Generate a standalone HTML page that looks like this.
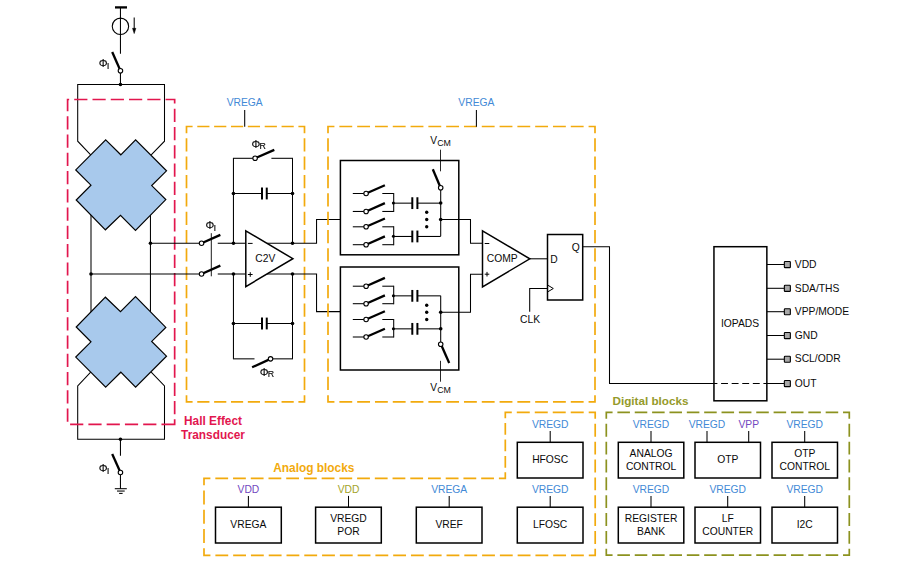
<!DOCTYPE html>
<html lang="en">
<head>
<meta charset="utf-8">
<title>Block diagram</title>
<style>
html,body{margin:0;padding:0;background:#fff;}
body{width:924px;height:576px;overflow:hidden;}
svg{display:block;font-family:"Liberation Sans",Arial,Helvetica,sans-serif;}
</style>
</head>
<body>
<svg width="924" height="576" viewBox="0 0 924 576">
<rect x="0" y="0" width="924" height="576" fill="#ffffff"/>
<line x1="115" y1="7.4" x2="127" y2="7.4" stroke="#000000" stroke-width="2.3" />
<line x1="120.45" y1="7.5" x2="120.45" y2="53.8" stroke="#000000" stroke-width="1.05" />
<circle cx="120.45" cy="26.3" r="8.2" fill="none" stroke="#000000" stroke-width="1.1"/>
<line x1="134.2" y1="17.5" x2="134.2" y2="30" stroke="#000000" stroke-width="1.05" />
<polygon points="132.5,28.3 135.9,28.3 134.2,33.6" fill="#000000" stroke="#000000" stroke-width="0.5" />
<line x1="112.2" y1="52" x2="119.6" y2="68.8" stroke="#000000" stroke-width="2.3" />
<circle cx="120.45" cy="70.7" r="2.25" fill="#fff" stroke="#000000" stroke-width="1.1"/>
<line x1="120.45" y1="73" x2="120.45" y2="84.5" stroke="#000000" stroke-width="1.05" />
<circle cx="120.45" cy="84.5" r="1.8" fill="#000000"/>
<polyline points="90.7,154.9 77.7,141.2 77.7,84.5 164.5,84.5 164.5,141.2 151.2,154.9" fill="none" stroke="#000000" stroke-width="1.05" />
<polyline points="90.7,372.1 77.7,385.9 77.7,439.3 164.5,439.3 164.5,385.9 151.2,372.1" fill="none" stroke="#000000" stroke-width="1.05" />
<circle cx="120.45" cy="439.3" r="1.8" fill="#000000"/>
<line x1="120.45" y1="439.3" x2="120.45" y2="455.7" stroke="#000000" stroke-width="1.05" />
<line x1="112.2" y1="454" x2="119.6" y2="470.5" stroke="#000000" stroke-width="2.3" />
<circle cx="120.45" cy="472.5" r="2.25" fill="#fff" stroke="#000000" stroke-width="1.1"/>
<line x1="120.45" y1="474.7" x2="120.45" y2="488.7" stroke="#000000" stroke-width="1.05" />
<line x1="114.8" y1="488.7" x2="126.8" y2="488.7" stroke="#000000" stroke-width="1.05" />
<line x1="117" y1="491.05" x2="124.7" y2="491.05" stroke="#000000" stroke-width="1.05" />
<line x1="119.1" y1="493.4" x2="122.6" y2="493.4" stroke="#000000" stroke-width="1.05" />
<line x1="91" y1="214" x2="91" y2="313" stroke="#000000" stroke-width="1.05" />
<line x1="150.45" y1="214" x2="150.45" y2="313" stroke="#000000" stroke-width="1.05" />
<polygon points="105.7,139.9 120.8,154.8 135.6,139.9 166.5,170.8 151.7,185.6 165.8,199.6 135.5,230.4 120.5,215.3 105.4,229.8 76.2,200 90.95,185.2 75.76,169.9" fill="#a8c9ec" stroke="#000000" stroke-width="1.2" stroke-linejoin="miter"/>
<polygon points="105.7,387.1 120.8,372.2 135.6,387.1 166.5,356.2 151.7,341.4 165.8,327.4 135.5,296.6 120.5,311.7 105.4,297.2 76.2,327 90.95,341.8 75.76,357.1" fill="#a8c9ec" stroke="#000000" stroke-width="1.2" stroke-linejoin="miter"/>
<circle cx="150.45" cy="243.25" r="1.8" fill="#000000"/>
<circle cx="91" cy="274" r="1.8" fill="#000000"/>
<path d="M174.66,424.3 L67.6,424.3 L67.6,99.5 L174.66,99.5 Z" fill="none" stroke="#e2164e" stroke-width="1.7" stroke-dasharray="13.2 5.07"/>
<g fill="#000" stroke="#000" stroke-width="0.12" style="filter:grayscale(1)"><text transform="translate(98.8,67) scale(0.96,1)" font-size="11.5">Φ</text><text x="106.8" y="68.9" font-size="9.6">I</text></g>
<g fill="#000" stroke="#000" stroke-width="0.12" style="filter:grayscale(1)"><text transform="translate(98.8,471.6) scale(0.96,1)" font-size="11.5">Φ</text><text x="106.8" y="473.5" font-size="9.6">I</text></g>
<text x="213" y="424.7" fill="#e2164e" font-size="11.85" text-anchor="middle" font-weight="bold" >Hall Effect</text>
<text x="213" y="439" fill="#e2164e" font-size="11.85" text-anchor="middle" font-weight="bold" >Transducer</text>
<line x1="192.59" y1="126.5" x2="298.41" y2="126.5" stroke="#f2aa0d" stroke-width="1.7" stroke-dasharray="12.175 4.683" stroke-dashoffset="12.175"/>
<line x1="304.5" y1="133.13" x2="304.5" y2="395.17" stroke="#f2aa0d" stroke-width="1.7" stroke-dasharray="13.255 5.098" stroke-dashoffset="13.255"/>
<line x1="298.41" y1="401.8" x2="192.59" y2="401.8" stroke="#f2aa0d" stroke-width="1.7" stroke-dasharray="12.175 4.683" stroke-dashoffset="12.175"/>
<line x1="186.5" y1="395.17" x2="186.5" y2="133.13" stroke="#f2aa0d" stroke-width="1.7" stroke-dasharray="13.255 5.098" stroke-dashoffset="13.255"/>
<polyline points="186.5,133.13 186.5,126.5 192.59,126.5" fill="none" stroke="#f2aa0d" stroke-width="1.7" stroke-linejoin="miter"/>
<polyline points="298.41,126.5 304.5,126.5 304.5,133.13" fill="none" stroke="#f2aa0d" stroke-width="1.7" stroke-linejoin="miter"/>
<polyline points="304.5,395.17 304.5,401.8 298.41,401.8" fill="none" stroke="#f2aa0d" stroke-width="1.7" stroke-linejoin="miter"/>
<polyline points="192.59,401.8 186.5,401.8 186.5,395.17" fill="none" stroke="#f2aa0d" stroke-width="1.7" stroke-linejoin="miter"/>
<text x="244.7" y="106.3" fill="#4289d6" font-size="10.3" text-anchor="middle" >VREGA</text>
<line x1="244.7" y1="110" x2="244.7" y2="126.7" stroke="#000000" stroke-width="1.05" />
<line x1="150.45" y1="243.25" x2="201.55" y2="243.25" stroke="#000000" stroke-width="1.05" />
<line x1="217.75" y1="243.25" x2="245.8" y2="243.25" stroke="#000000" stroke-width="1.05" />
<line x1="201.55" y1="243.25" x2="220.35" y2="234.85" stroke="#000000" stroke-width="2.3" />
<circle cx="201.55" cy="243.25" r="2.25" fill="#fff" stroke="#000000" stroke-width="1.1"/>
<line x1="91" y1="274" x2="201.55" y2="274" stroke="#000000" stroke-width="1.05" />
<line x1="217.75" y1="274" x2="245.8" y2="274" stroke="#000000" stroke-width="1.05" />
<line x1="201.55" y1="274" x2="220.35" y2="265.6" stroke="#000000" stroke-width="2.3" />
<circle cx="201.55" cy="274" r="2.25" fill="#fff" stroke="#000000" stroke-width="1.1"/>
<line x1="211.3" y1="233.2" x2="211.3" y2="276.3" stroke="#000000" stroke-width="0.9" />
<g fill="#000" stroke="#000" stroke-width="0.12" style="filter:grayscale(1)"><text transform="translate(205.6,228.8) scale(0.96,1)" font-size="11.5">Φ</text><text x="213.6" y="230.7" font-size="9.6">I</text></g>
<polygon points="245.8,230.9 292.9,258.7 245.8,286.6" fill="#fff" stroke="#000000" stroke-width="1.5" />
<text x="265.3" y="262.3" fill="#0a0a0a" font-size="10.3" text-anchor="middle" >C2V</text>
<line x1="247.9" y1="243.4" x2="252.6" y2="243.4" stroke="#000000" stroke-width="1" />
<line x1="247.9" y1="274.5" x2="252.6" y2="274.5" stroke="#000000" stroke-width="1" />
<line x1="250.25" y1="272.2" x2="250.25" y2="276.8" stroke="#000000" stroke-width="1" />
<polyline points="267,243.25 316.55,243.25 316.55,219.5 340,219.5" fill="none" stroke="#000000" stroke-width="1.05" />
<polyline points="267,274 316.55,274 316.55,311.6 340,311.6" fill="none" stroke="#000000" stroke-width="1.05" />
<line x1="233.45" y1="158.3" x2="233.45" y2="243.25" stroke="#000000" stroke-width="1.05" />
<line x1="292.5" y1="158.3" x2="292.5" y2="243.25" stroke="#000000" stroke-width="1.05" />
<line x1="232.95" y1="158.3" x2="255.1" y2="158.3" stroke="#000000" stroke-width="1.05" />
<line x1="271.4" y1="158.3" x2="293" y2="158.3" stroke="#000000" stroke-width="1.05" />
<line x1="255.1" y1="158.3" x2="274.3" y2="149.9" stroke="#000000" stroke-width="2.3" />
<circle cx="255.1" cy="158.3" r="2.25" fill="#fff" stroke="#000000" stroke-width="1.1"/>
<line x1="233.45" y1="193.5" x2="262" y2="193.5" stroke="#000000" stroke-width="1.05" />
<line x1="266.75" y1="193.5" x2="292.5" y2="193.5" stroke="#000000" stroke-width="1.05" />
<line x1="262" y1="187.6" x2="262" y2="199.4" stroke="#000000" stroke-width="2.0" />
<line x1="266.75" y1="187.6" x2="266.75" y2="199.4" stroke="#000000" stroke-width="2.0" />
<circle cx="233.45" cy="193.5" r="1.8" fill="#000000"/>
<circle cx="292.5" cy="193.5" r="1.8" fill="#000000"/>
<circle cx="233.45" cy="243.25" r="1.8" fill="#000000"/>
<circle cx="292.5" cy="243.25" r="1.8" fill="#000000"/>
<g fill="#000" stroke="#000" stroke-width="0.12" style="filter:grayscale(1)"><text transform="translate(251.6,147.5) scale(0.96,1)" font-size="11.5">Φ</text><text x="259.6" y="148.8" font-size="8.8">R</text></g>
<line x1="233.45" y1="274" x2="233.45" y2="358.85" stroke="#000000" stroke-width="1.05" />
<line x1="292.5" y1="274" x2="292.5" y2="358.85" stroke="#000000" stroke-width="1.05" />
<line x1="233.45" y1="323.5" x2="262" y2="323.5" stroke="#000000" stroke-width="1.05" />
<line x1="266.75" y1="323.5" x2="292.5" y2="323.5" stroke="#000000" stroke-width="1.05" />
<line x1="262" y1="317.6" x2="262" y2="329.4" stroke="#000000" stroke-width="2.0" />
<line x1="266.75" y1="317.6" x2="266.75" y2="329.4" stroke="#000000" stroke-width="2.0" />
<circle cx="233.45" cy="323.5" r="1.8" fill="#000000"/>
<circle cx="292.5" cy="323.5" r="1.8" fill="#000000"/>
<circle cx="233.45" cy="274" r="1.8" fill="#000000"/>
<circle cx="292.5" cy="274" r="1.8" fill="#000000"/>
<line x1="232.95" y1="358.85" x2="254.5" y2="358.85" stroke="#000000" stroke-width="1.05" />
<line x1="270.55" y1="358.85" x2="293" y2="358.85" stroke="#000000" stroke-width="1.05" />
<line x1="270.55" y1="358.85" x2="252.1" y2="367.3" stroke="#000000" stroke-width="2.3" />
<circle cx="270.55" cy="358.85" r="2.25" fill="#fff" stroke="#000000" stroke-width="1.1"/>
<g fill="#000" stroke="#000" stroke-width="0.12" style="filter:grayscale(1)"><text transform="translate(259.8,375.7) scale(0.96,1)" font-size="11.5">Φ</text><text x="267.8" y="377" font-size="8.8">R</text></g>
<line x1="334.43" y1="126.5" x2="588.57" y2="126.5" stroke="#f2aa0d" stroke-width="1.7" stroke-dasharray="12.856 4.944" stroke-dashoffset="12.856"/>
<line x1="595" y1="133.13" x2="595" y2="395.17" stroke="#f2aa0d" stroke-width="1.7" stroke-dasharray="13.255 5.098" stroke-dashoffset="13.255"/>
<line x1="588.57" y1="401.8" x2="334.43" y2="401.8" stroke="#f2aa0d" stroke-width="1.7" stroke-dasharray="12.856 4.944" stroke-dashoffset="12.856"/>
<line x1="328" y1="395.17" x2="328" y2="133.13" stroke="#f2aa0d" stroke-width="1.7" stroke-dasharray="13.255 5.098" stroke-dashoffset="13.255"/>
<polyline points="328,133.13 328,126.5 334.43,126.5" fill="none" stroke="#f2aa0d" stroke-width="1.7" stroke-linejoin="miter"/>
<polyline points="588.57,126.5 595,126.5 595,133.13" fill="none" stroke="#f2aa0d" stroke-width="1.7" stroke-linejoin="miter"/>
<polyline points="595,395.17 595,401.8 588.57,401.8" fill="none" stroke="#f2aa0d" stroke-width="1.7" stroke-linejoin="miter"/>
<polyline points="334.43,401.8 328,401.8 328,395.17" fill="none" stroke="#f2aa0d" stroke-width="1.7" stroke-linejoin="miter"/>
<text x="476.4" y="106.3" fill="#4289d6" font-size="10.3" text-anchor="middle" >VREGA</text>
<line x1="476.4" y1="110" x2="476.4" y2="126.7" stroke="#000000" stroke-width="1.05" />
<rect x="340.4" y="160.5" width="118.4" height="94.3" fill="none" stroke="#000000" stroke-width="1.5"/>
<rect x="340.4" y="267" width="118.4" height="103" fill="none" stroke="#000000" stroke-width="1.5"/>
<line x1="352.8" y1="193.5" x2="366.1" y2="193.5" stroke="#000000" stroke-width="1.05" />
<line x1="382.3" y1="193.5" x2="393.7" y2="193.5" stroke="#000000" stroke-width="1.05" />
<line x1="366.1" y1="193.5" x2="384.9" y2="185.2" stroke="#000000" stroke-width="2.3" />
<circle cx="366.1" cy="193.5" r="2.25" fill="#fff" stroke="#000000" stroke-width="1.1"/>
<line x1="352.8" y1="211.45" x2="366.1" y2="211.45" stroke="#000000" stroke-width="1.05" />
<line x1="382.3" y1="211.45" x2="393.7" y2="211.45" stroke="#000000" stroke-width="1.05" />
<line x1="366.1" y1="211.45" x2="384.9" y2="203.15" stroke="#000000" stroke-width="2.3" />
<circle cx="366.1" cy="211.45" r="2.25" fill="#fff" stroke="#000000" stroke-width="1.1"/>
<line x1="352.8" y1="226.8" x2="366.1" y2="226.8" stroke="#000000" stroke-width="1.05" />
<line x1="382.3" y1="226.8" x2="393.7" y2="226.8" stroke="#000000" stroke-width="1.05" />
<line x1="366.1" y1="226.8" x2="384.9" y2="218.5" stroke="#000000" stroke-width="2.3" />
<circle cx="366.1" cy="226.8" r="2.25" fill="#fff" stroke="#000000" stroke-width="1.1"/>
<line x1="352.8" y1="244.7" x2="366.1" y2="244.7" stroke="#000000" stroke-width="1.05" />
<line x1="382.3" y1="244.7" x2="393.7" y2="244.7" stroke="#000000" stroke-width="1.05" />
<line x1="366.1" y1="244.7" x2="384.9" y2="236.4" stroke="#000000" stroke-width="2.3" />
<circle cx="366.1" cy="244.7" r="2.25" fill="#fff" stroke="#000000" stroke-width="1.1"/>
<line x1="393.7" y1="193" x2="393.7" y2="211.95" stroke="#000000" stroke-width="1.05" />
<line x1="393.7" y1="203.15" x2="412.3" y2="203.15" stroke="#000000" stroke-width="1.05" />
<line x1="417.4" y1="203.15" x2="440.7" y2="203.15" stroke="#000000" stroke-width="1.05" />
<line x1="412.3" y1="197.25" x2="412.3" y2="209.05" stroke="#000000" stroke-width="2.0" />
<line x1="417.4" y1="197.25" x2="417.4" y2="209.05" stroke="#000000" stroke-width="2.0" />
<circle cx="393.4" cy="203" r="1.5" fill="#000000"/>
<line x1="393.7" y1="226.3" x2="393.7" y2="245.2" stroke="#000000" stroke-width="1.05" />
<line x1="393.7" y1="236.45" x2="412.3" y2="236.45" stroke="#000000" stroke-width="1.05" />
<line x1="417.4" y1="236.45" x2="440.7" y2="236.45" stroke="#000000" stroke-width="1.05" />
<line x1="412.3" y1="230.55" x2="412.3" y2="242.35" stroke="#000000" stroke-width="2.0" />
<line x1="417.4" y1="230.55" x2="417.4" y2="242.35" stroke="#000000" stroke-width="2.0" />
<circle cx="393.4" cy="236.3" r="1.5" fill="#000000"/>
<line x1="352.8" y1="286.2" x2="366.1" y2="286.2" stroke="#000000" stroke-width="1.05" />
<line x1="382.3" y1="286.2" x2="393.7" y2="286.2" stroke="#000000" stroke-width="1.05" />
<line x1="366.1" y1="286.2" x2="384.9" y2="277.9" stroke="#000000" stroke-width="2.3" />
<circle cx="366.1" cy="286.2" r="2.25" fill="#fff" stroke="#000000" stroke-width="1.1"/>
<line x1="352.8" y1="303.7" x2="366.1" y2="303.7" stroke="#000000" stroke-width="1.05" />
<line x1="382.3" y1="303.7" x2="393.7" y2="303.7" stroke="#000000" stroke-width="1.05" />
<line x1="366.1" y1="303.7" x2="384.9" y2="295.4" stroke="#000000" stroke-width="2.3" />
<circle cx="366.1" cy="303.7" r="2.25" fill="#fff" stroke="#000000" stroke-width="1.1"/>
<line x1="352.8" y1="319.5" x2="366.1" y2="319.5" stroke="#000000" stroke-width="1.05" />
<line x1="382.3" y1="319.5" x2="393.7" y2="319.5" stroke="#000000" stroke-width="1.05" />
<line x1="366.1" y1="319.5" x2="384.9" y2="311.2" stroke="#000000" stroke-width="2.3" />
<circle cx="366.1" cy="319.5" r="2.25" fill="#fff" stroke="#000000" stroke-width="1.1"/>
<line x1="352.8" y1="337" x2="366.1" y2="337" stroke="#000000" stroke-width="1.05" />
<line x1="382.3" y1="337" x2="393.7" y2="337" stroke="#000000" stroke-width="1.05" />
<line x1="366.1" y1="337" x2="384.9" y2="328.7" stroke="#000000" stroke-width="2.3" />
<circle cx="366.1" cy="337" r="2.25" fill="#fff" stroke="#000000" stroke-width="1.1"/>
<line x1="393.7" y1="285.7" x2="393.7" y2="304.2" stroke="#000000" stroke-width="1.05" />
<line x1="393.7" y1="295.85" x2="412.3" y2="295.85" stroke="#000000" stroke-width="1.05" />
<line x1="417.4" y1="295.85" x2="440.7" y2="295.85" stroke="#000000" stroke-width="1.05" />
<line x1="412.3" y1="289.95" x2="412.3" y2="301.75" stroke="#000000" stroke-width="2.0" />
<line x1="417.4" y1="289.95" x2="417.4" y2="301.75" stroke="#000000" stroke-width="2.0" />
<circle cx="393.4" cy="295.7" r="1.5" fill="#000000"/>
<line x1="393.7" y1="319" x2="393.7" y2="337.5" stroke="#000000" stroke-width="1.05" />
<line x1="393.7" y1="328.85" x2="412.3" y2="328.85" stroke="#000000" stroke-width="1.05" />
<line x1="417.4" y1="328.85" x2="440.7" y2="328.85" stroke="#000000" stroke-width="1.05" />
<line x1="412.3" y1="322.95" x2="412.3" y2="334.75" stroke="#000000" stroke-width="2.0" />
<line x1="417.4" y1="322.95" x2="417.4" y2="334.75" stroke="#000000" stroke-width="2.0" />
<circle cx="393.4" cy="328.7" r="1.5" fill="#000000"/>
<circle cx="426.7" cy="212.2" r="1.7" fill="#000000"/>
<circle cx="426.7" cy="219.5" r="1.7" fill="#000000"/>
<circle cx="426.7" cy="226.8" r="1.7" fill="#000000"/>
<circle cx="426.7" cy="305.2" r="1.7" fill="#000000"/>
<circle cx="426.7" cy="312.2" r="1.7" fill="#000000"/>
<circle cx="426.7" cy="319.5" r="1.7" fill="#000000"/>
<line x1="440.7" y1="187.8" x2="440.7" y2="236.3" stroke="#000000" stroke-width="1.05" />
<circle cx="440.7" cy="203" r="1.8" fill="#000000"/>
<circle cx="440.7" cy="219.5" r="1.8" fill="#000000"/>
<line x1="432.8" y1="169.2" x2="440" y2="186.3" stroke="#000000" stroke-width="2.3" />
<circle cx="440.7" cy="187.8" r="2.25" fill="#fff" stroke="#000000" stroke-width="1.1"/>
<line x1="440.5" y1="149.7" x2="440.5" y2="171.3" stroke="#000000" stroke-width="0.85" />
<text x="430.3" y="144.2" fill="#0a0a0a" font-size="10.2">V<tspan font-size="8.8" dx="0.1" dy="1.7">CM</tspan></text>
<line x1="440.7" y1="295.7" x2="440.7" y2="344.2" stroke="#000000" stroke-width="1.05" />
<circle cx="440.7" cy="312.2" r="1.8" fill="#000000"/>
<circle cx="440.7" cy="328.7" r="1.8" fill="#000000"/>
<line x1="441.6" y1="345.7" x2="449.2" y2="363" stroke="#000000" stroke-width="2.3" />
<circle cx="440.7" cy="344.2" r="2.25" fill="#fff" stroke="#000000" stroke-width="1.1"/>
<line x1="440.5" y1="360.8" x2="440.5" y2="381.7" stroke="#000000" stroke-width="0.85" />
<text x="430.3" y="391.3" fill="#0a0a0a" font-size="10.2">V<tspan font-size="8.8" dx="0.1" dy="1.7">CM</tspan></text>
<polyline points="440.7,219.5 470.5,219.5 470.5,243.3 482.5,243.3" fill="none" stroke="#000000" stroke-width="1.05" />
<polyline points="440.7,312.2 470.5,312.2 470.5,274.2 482.5,274.2" fill="none" stroke="#000000" stroke-width="1.05" />
<polygon points="482.5,230.8 529.8,258.8 482.5,286.9" fill="#fff" stroke="#000000" stroke-width="1.5" />
<text x="502.3" y="262.3" fill="#0a0a0a" font-size="10.3" text-anchor="middle" >COMP</text>
<line x1="484.7" y1="243.5" x2="489.3" y2="243.5" stroke="#000000" stroke-width="1" />
<line x1="484.7" y1="274.2" x2="489.3" y2="274.2" stroke="#000000" stroke-width="1" />
<line x1="487" y1="271.9" x2="487" y2="276.5" stroke="#000000" stroke-width="1" />
<line x1="529.5" y1="258.8" x2="547.5" y2="258.8" stroke="#000000" stroke-width="1.05" />
<rect x="547.5" y="234.5" width="35.2" height="65.5" fill="none" stroke="#000000" stroke-width="1.5"/>
<text x="550.3" y="262.8" fill="#0a0a0a" font-size="10.3" text-anchor="start" >D</text>
<text x="571.7" y="251" fill="#0a0a0a" font-size="10.3" text-anchor="start" >Q</text>
<polyline points="547.5,285 553.3,288.5 547.5,292" fill="none" stroke="#000000" stroke-width="1" />
<polyline points="547.5,288.5 529.7,288.5 529.7,311.7" fill="none" stroke="#000000" stroke-width="1.05" />
<text x="530" y="323" fill="#0a0a0a" font-size="10.3" text-anchor="middle" >CLK</text>
<polyline points="582.7,246.7 609.5,246.7 609.5,383.5 714,383.5" fill="none" stroke="#000000" stroke-width="1.05" />
<line x1="713.95" y1="383.45" x2="766.85" y2="383.45" stroke="#000000" stroke-width="1.05" stroke-dasharray="6.88 3.7" stroke-dashoffset="3.44"/>
<rect x="713.95" y="246.7" width="52.9" height="154.1" fill="none" stroke="#000000" stroke-width="1.5"/>
<text x="740" y="326.8" fill="#0a0a0a" font-size="10.3" text-anchor="middle" >IOPADS</text>
<line x1="767" y1="264.5" x2="784.2" y2="264.5" stroke="#000000" stroke-width="1.05" />
<rect x="784.35" y="261.5" width="6.0" height="6.1" rx="0.7" fill="#a8a8a8" stroke="#000000" stroke-width="1.1" stroke-linejoin="round"/>
<text x="794.8" y="268.1" fill="#0a0a0a" font-size="10.3" text-anchor="start" >VDD</text>
<line x1="767" y1="288.3" x2="784.2" y2="288.3" stroke="#000000" stroke-width="1.05" />
<rect x="784.35" y="285.3" width="6.0" height="6.1" rx="0.7" fill="#a8a8a8" stroke="#000000" stroke-width="1.1" stroke-linejoin="round"/>
<text x="794.8" y="291.9" fill="#0a0a0a" font-size="10.3" text-anchor="start" >SDA/THS</text>
<line x1="767" y1="311.7" x2="784.2" y2="311.7" stroke="#000000" stroke-width="1.05" />
<rect x="784.35" y="308.7" width="6.0" height="6.1" rx="0.7" fill="#a8a8a8" stroke="#000000" stroke-width="1.1" stroke-linejoin="round"/>
<text x="794.8" y="315.3" fill="#0a0a0a" font-size="10.3" text-anchor="start" >VPP/MODE</text>
<line x1="767" y1="335.5" x2="784.2" y2="335.5" stroke="#000000" stroke-width="1.05" />
<rect x="784.35" y="332.5" width="6.0" height="6.1" rx="0.7" fill="#a8a8a8" stroke="#000000" stroke-width="1.1" stroke-linejoin="round"/>
<text x="794.8" y="339.1" fill="#0a0a0a" font-size="10.3" text-anchor="start" >GND</text>
<line x1="767" y1="359.2" x2="784.2" y2="359.2" stroke="#000000" stroke-width="1.05" />
<rect x="784.35" y="356.2" width="6.0" height="6.1" rx="0.7" fill="#a8a8a8" stroke="#000000" stroke-width="1.1" stroke-linejoin="round"/>
<text x="794.8" y="362.3" fill="#0a0a0a" font-size="10.3" text-anchor="start" >SCL/ODR</text>
<line x1="767" y1="383.5" x2="784.2" y2="383.5" stroke="#000000" stroke-width="1.05" />
<rect x="784.35" y="380.5" width="6.0" height="6.1" rx="0.7" fill="#a8a8a8" stroke="#000000" stroke-width="1.1" stroke-linejoin="round"/>
<text x="794.8" y="387.1" fill="#0a0a0a" font-size="10.3" text-anchor="start" >OUT</text>
<line x1="210.4" y1="478.3" x2="498.9" y2="478.3" stroke="#f2aa0d" stroke-width="1.7" stroke-dasharray="12.800 4.923" stroke-dashoffset="12.800"/>
<line x1="505.3" y1="472.35" x2="505.3" y2="418.35" stroke="#f2aa0d" stroke-width="1.7" stroke-dasharray="11.899 4.576" stroke-dashoffset="11.899"/>
<line x1="511.79" y1="412.4" x2="588.71" y2="412.4" stroke="#f2aa0d" stroke-width="1.7" stroke-dasharray="12.986 4.994" stroke-dashoffset="12.986"/>
<line x1="595.2" y1="418.85" x2="595.2" y2="548.85" stroke="#f2aa0d" stroke-width="1.7" stroke-dasharray="12.901 4.962" stroke-dashoffset="12.901"/>
<line x1="588.78" y1="555.3" x2="210.42" y2="555.3" stroke="#f2aa0d" stroke-width="1.7" stroke-dasharray="12.842 4.939" stroke-dashoffset="12.842"/>
<line x1="204" y1="548.35" x2="204" y2="485.25" stroke="#f2aa0d" stroke-width="1.7" stroke-dasharray="13.903 5.347" stroke-dashoffset="13.903"/>
<polyline points="204,485.25 204,478.3 210.4,478.3" fill="none" stroke="#f2aa0d" stroke-width="1.7" stroke-linejoin="miter"/>
<polyline points="498.9,478.3 505.3,478.3 505.3,472.35" fill="none" stroke="#f2aa0d" stroke-width="1.7" stroke-linejoin="miter"/>
<polyline points="505.3,418.35 505.3,412.4 511.79,412.4" fill="none" stroke="#f2aa0d" stroke-width="1.7" stroke-linejoin="miter"/>
<polyline points="588.71,412.4 595.2,412.4 595.2,418.85" fill="none" stroke="#f2aa0d" stroke-width="1.7" stroke-linejoin="miter"/>
<polyline points="595.2,548.85 595.2,555.3 588.78,555.3" fill="none" stroke="#f2aa0d" stroke-width="1.7" stroke-linejoin="miter"/>
<polyline points="210.42,555.3 204,555.3 204,548.35" fill="none" stroke="#f2aa0d" stroke-width="1.7" stroke-linejoin="miter"/>
<text x="273.2" y="472" fill="#f2aa0d" font-size="11.9" text-anchor="start" font-weight="bold" >Analog blocks</text>
<rect x="215.5" y="507.2" width="65.8" height="35.8" fill="none" stroke="#000000" stroke-width="1.5"/>
<text x="248.4" y="527.85" fill="#0a0a0a" font-size="10.3" text-anchor="middle" >VREGA</text>
<text x="248.4" y="493.3" fill="#7248c0" font-size="10.3" text-anchor="middle" >VDD</text>
<line x1="248.4" y1="495.9" x2="248.4" y2="507.2" stroke="#000000" stroke-width="1.05" />
<rect x="315.6" y="507.2" width="65.7" height="35.8" fill="none" stroke="#000000" stroke-width="1.5"/>
<text x="348.45" y="521.6" fill="#0a0a0a" font-size="10.3" text-anchor="middle" >VREGD</text>
<text x="348.45" y="534.9" fill="#0a0a0a" font-size="10.3" text-anchor="middle" >POR</text>
<text x="348.5" y="493.3" fill="#a3a32b" font-size="10.3" text-anchor="middle" >VDD</text>
<line x1="348.5" y1="495.9" x2="348.5" y2="507.2" stroke="#000000" stroke-width="1.05" />
<rect x="416.3" y="507.2" width="65.7" height="35.8" fill="none" stroke="#000000" stroke-width="1.5"/>
<text x="449.15" y="527.85" fill="#0a0a0a" font-size="10.3" text-anchor="middle" >VREF</text>
<text x="449.2" y="493.3" fill="#4289d6" font-size="10.3" text-anchor="middle" >VREGA</text>
<line x1="449.2" y1="495.9" x2="449.2" y2="507.2" stroke="#000000" stroke-width="1.05" />
<rect x="517.3" y="507.2" width="65.7" height="35.8" fill="none" stroke="#000000" stroke-width="1.5"/>
<text x="550.15" y="527.85" fill="#0a0a0a" font-size="10.3" text-anchor="middle" >LFOSC</text>
<text x="550.2" y="493.3" fill="#4289d6" font-size="10.3" text-anchor="middle" >VREGD</text>
<line x1="550.2" y1="495.9" x2="550.2" y2="507.2" stroke="#000000" stroke-width="1.05" />
<rect x="517.3" y="442.3" width="65.7" height="35.7" fill="none" stroke="#000000" stroke-width="1.5"/>
<text x="550.15" y="462.9" fill="#0a0a0a" font-size="10.3" text-anchor="middle" >HFOSC</text>
<text x="550.2" y="428.4" fill="#4289d6" font-size="10.3" text-anchor="middle" >VREGD</text>
<line x1="550.2" y1="431" x2="550.2" y2="442.3" stroke="#000000" stroke-width="1.05" />
<line x1="612.57" y1="412.4" x2="843.03" y2="412.4" stroke="#8c921f" stroke-width="1.7" stroke-dasharray="12.536 4.821" stroke-dashoffset="12.536"/>
<line x1="849.3" y1="418.85" x2="849.3" y2="548.75" stroke="#8c921f" stroke-width="1.7" stroke-dasharray="12.892 4.958" stroke-dashoffset="12.892"/>
<line x1="843.03" y1="555.2" x2="612.57" y2="555.2" stroke="#8c921f" stroke-width="1.7" stroke-dasharray="12.536 4.821" stroke-dashoffset="12.536"/>
<line x1="606.3" y1="548.75" x2="606.3" y2="418.85" stroke="#8c921f" stroke-width="1.7" stroke-dasharray="12.892 4.958" stroke-dashoffset="12.892"/>
<polyline points="606.3,418.85 606.3,412.4 612.57,412.4" fill="none" stroke="#8c921f" stroke-width="1.7" stroke-linejoin="miter"/>
<polyline points="843.03,412.4 849.3,412.4 849.3,418.85" fill="none" stroke="#8c921f" stroke-width="1.7" stroke-linejoin="miter"/>
<polyline points="849.3,548.75 849.3,555.2 843.03,555.2" fill="none" stroke="#8c921f" stroke-width="1.7" stroke-linejoin="miter"/>
<polyline points="612.57,555.2 606.3,555.2 606.3,548.75" fill="none" stroke="#8c921f" stroke-width="1.7" stroke-linejoin="miter"/>
<text x="612.5" y="404.7" fill="#959a2a" font-size="11.7" text-anchor="start" font-weight="bold" >Digital blocks</text>
<rect x="618.3" y="442.3" width="65.5" height="35.7" fill="none" stroke="#000000" stroke-width="1.5"/>
<text x="651.05" y="456.65" fill="#0a0a0a" font-size="10.3" text-anchor="middle" >ANALOG</text>
<text x="651.05" y="469.95" fill="#0a0a0a" font-size="10.3" text-anchor="middle" >CONTROL</text>
<text x="651" y="428.4" fill="#4289d6" font-size="10.3" text-anchor="middle" >VREGD</text>
<line x1="651" y1="431" x2="651" y2="442.3" stroke="#000000" stroke-width="1.05" />
<rect x="695" y="442.3" width="65.5" height="35.7" fill="none" stroke="#000000" stroke-width="1.5"/>
<text x="727.75" y="462.9" fill="#0a0a0a" font-size="10.3" text-anchor="middle" >OTP</text>
<text x="707" y="428.4" fill="#4289d6" font-size="10.3" text-anchor="middle" >VREGD</text>
<line x1="707" y1="431" x2="707" y2="442.3" stroke="#000000" stroke-width="1.05" />
<text x="748.7" y="428.4" fill="#7248c0" font-size="10.3" text-anchor="middle" >VPP</text>
<line x1="748.7" y1="431" x2="748.7" y2="442.3" stroke="#000000" stroke-width="1.05" />
<rect x="772" y="442.3" width="65.5" height="35.7" fill="none" stroke="#000000" stroke-width="1.5"/>
<text x="804.75" y="456.65" fill="#0a0a0a" font-size="10.3" text-anchor="middle" >OTP</text>
<text x="804.75" y="469.95" fill="#0a0a0a" font-size="10.3" text-anchor="middle" >CONTROL</text>
<text x="804.7" y="428.4" fill="#4289d6" font-size="10.3" text-anchor="middle" >VREGD</text>
<line x1="804.7" y1="431" x2="804.7" y2="442.3" stroke="#000000" stroke-width="1.05" />
<rect x="618.3" y="507.2" width="65.5" height="35.8" fill="none" stroke="#000000" stroke-width="1.5"/>
<text x="651.05" y="521.6" fill="#0a0a0a" font-size="10.3" text-anchor="middle" >REGISTER</text>
<text x="651.05" y="534.9" fill="#0a0a0a" font-size="10.3" text-anchor="middle" >BANK</text>
<text x="651" y="493.3" fill="#4289d6" font-size="10.3" text-anchor="middle" >VREGD</text>
<line x1="651" y1="495.9" x2="651" y2="507.2" stroke="#000000" stroke-width="1.05" />
<rect x="695" y="507.2" width="65.5" height="35.8" fill="none" stroke="#000000" stroke-width="1.5"/>
<text x="727.75" y="521.6" fill="#0a0a0a" font-size="10.3" text-anchor="middle" >LF</text>
<text x="727.75" y="534.9" fill="#0a0a0a" font-size="10.3" text-anchor="middle" >COUNTER</text>
<text x="727.7" y="493.3" fill="#4289d6" font-size="10.3" text-anchor="middle" >VREGD</text>
<line x1="727.7" y1="495.9" x2="727.7" y2="507.2" stroke="#000000" stroke-width="1.05" />
<rect x="772" y="507.2" width="65.5" height="35.8" fill="none" stroke="#000000" stroke-width="1.5"/>
<text x="804.75" y="527.85" fill="#0a0a0a" font-size="10.3" text-anchor="middle" >I2C</text>
<text x="804.7" y="493.3" fill="#4289d6" font-size="10.3" text-anchor="middle" >VREGD</text>
<line x1="804.7" y1="495.9" x2="804.7" y2="507.2" stroke="#000000" stroke-width="1.05" />
</svg>
</body>
</html>
